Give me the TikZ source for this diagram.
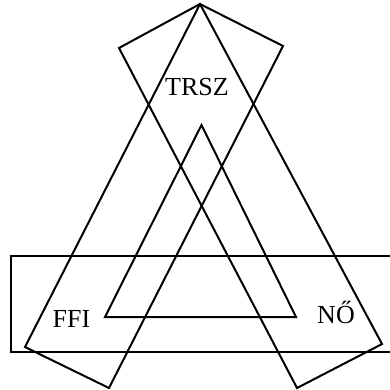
\documentclass[tikz,border=0pt]{standalone}
\usepackage{fontspec}
\setmainfont{Liberation Serif}
\usetikzlibrary{positioning}
\tikzset{
  frame/.style={draw,line width=2pt,line join=miter},
  lab/.style={anchor=base,inner sep=0pt,font=\fontsize{26}{30}\selectfont}
}
\begin{document}
\begin{tikzpicture}[x=1pt,y=-1pt]
\useasboundingbox (0,0) rectangle (390,389);
% the three sets
\draw[frame] (10.5,256) rectangle (395,352);
\draw[frame] (200,4)--(283,46)--(109,388)--(25,347)--cycle;
\draw[frame] (200,4)--(119,48)--(297,388)--(382,344)--cycle;
% inner triangle
\draw[frame] (201.5,125)--(296,317)--(105,317)--cycle;
\node[lab] (trsz) at (197,95) {TRSZ};
\node[lab] (ffi) at (71.5,327) {FFI};
\node[lab] (no) at (336,323) {NŐ};
\end{tikzpicture}
\end{document}
